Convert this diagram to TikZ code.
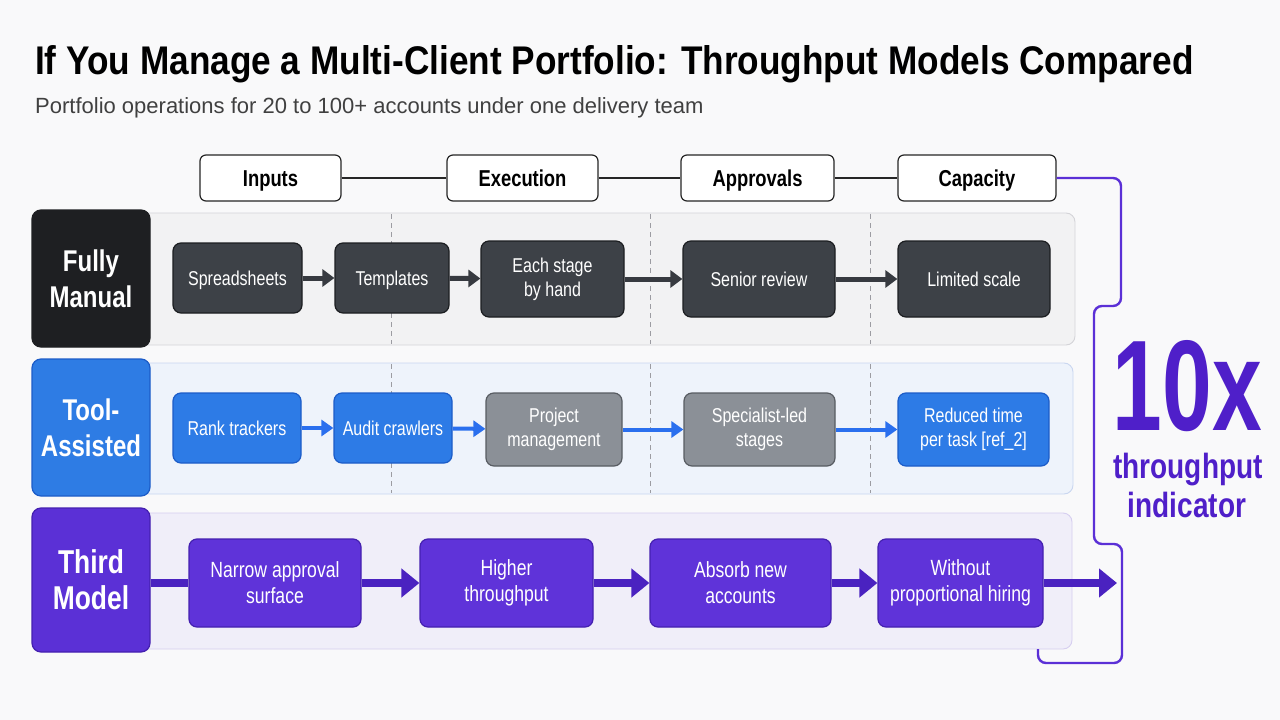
\documentclass[tikz,border=0pt]{standalone}
\usepackage{fontspec}
\setmainfont{Liberation Sans}
\newfontfamily\cond[FakeStretch=0.8]{Liberation Sans}
\newfontfamily\condt[FakeStretch=0.88]{Liberation Sans}
\usetikzlibrary{arrows.meta}
\definecolor{bgc}{HTML}{F9F9FA}
\definecolor{darklab}{HTML}{1E1F22}
\definecolor{darkbox}{HTML}{3D4147}
\definecolor{darkedge}{HTML}{1C1E21}
\definecolor{bluelab}{HTML}{2E7CE4}
\definecolor{blueedge}{HTML}{1C5CC8}
\definecolor{bluebox}{HTML}{2D7BE6}
\definecolor{bluearr}{HTML}{2A6FEE}
\definecolor{graybox}{HTML}{8B9097}
\definecolor{grayedge}{HTML}{585C62}
\definecolor{purlab}{HTML}{5B30D6}
\definecolor{puredge}{HTML}{4420B0}
\definecolor{purbox}{HTML}{5F33D9}
\definecolor{purarr}{HTML}{4A22C0}
\definecolor{purtxt}{HTML}{4F1FC9}
\definecolor{p1fill}{HTML}{F2F2F3}
\definecolor{p1edge}{HTML}{D4D4D8}
\definecolor{p2fill}{HTML}{EEF3FB}
\definecolor{p2edge}{HTML}{C9D6F0}
\definecolor{p3fill}{HTML}{F0EEF9}
\definecolor{p3edge}{HTML}{D6CEF0}
\definecolor{dashc}{HTML}{9C9CA2}
\tikzset{
  hdr/.style={draw=black!85, fill=white, rounded corners=6pt, line width=1.2pt,
    minimum height=46pt, inner sep=0pt, text height=17pt, text depth=0pt,
    font=\cond\bfseries\fontsize{23}{25}\selectfont},
  lab/.style={rounded corners=9pt, line width=1.2pt, inner sep=0pt, align=center,
    text=white, minimum width=118pt, font=\cond\bfseries\fontsize{30}{36}\selectfont},
  bx/.style={rounded corners=8pt, line width=1.2pt, inner sep=0pt, align=center,
    text=white, font=\cond\fontsize{20}{24}\selectfont},
  one/.style={text height=15pt, text depth=0pt},
  dbox/.style={bx, fill=darkbox, draw=darkedge},
  bbox/.style={bx, fill=bluebox, draw=blueedge},
  gbox/.style={bx, fill=graybox, draw=grayedge},
  pbox/.style={bx, fill=purbox, draw=puredge, minimum height=88pt,
    font=\cond\fontsize{22}{26}\selectfont},
  panel/.style={rounded corners=9pt, line width=0.9pt},
  dsh/.style={draw=dashc, line width=0.8pt, dash pattern=on 5pt off 4pt},
  darr/.style={draw=darkbox!90!black, line width=5pt, -{Triangle[length=12pt,width=17pt]}},
  barr/.style={draw=bluearr, line width=4pt, -{Triangle[length=12pt,width=16pt]}},
  parr/.style={draw=purarr, line width=8pt, -{Triangle[length=18pt,width=28pt]}},
  conn/.style={draw=black!85, line width=1.6pt},
}
\begin{document}
\begin{tikzpicture}[x=1pt,y=-1pt]
\fill[bgc] (0,0) rectangle (1280,720);
\useasboundingbox (0,0) rectangle (1280,720);

% title
\node[anchor=base west, inner sep=0pt, font=\condt\bfseries\fontsize{40}{44}\selectfont] (title) at (35,74)
  {If You Manage a Multi-Client Portfolio: Throughput Models Compared};
\node[anchor=base west, inner sep=0pt, text=black!75, font=\fontsize{22}{24}\selectfont] (sub) at (35,113)
  {Portfolio operations for 20 to 100+ accounts under one delivery team};

% panels
\draw[panel, fill=p1fill, draw=p1edge] (140,213) rectangle (1075,345);
\draw[panel, fill=p2fill, draw=p2edge] (140,363) rectangle (1073,494);
\draw[panel, fill=p3fill, draw=p3edge] (140,513) rectangle (1072,649);

% dashed column separators
\foreach \xx in {391,650,870} {
  \draw[dsh] (\xx,214) -- (\xx,344);
  \draw[dsh] (\xx,364) -- (\xx,493);
}

% headers
\node[hdr, minimum width=141pt] (hin) at (270.5,178) {Inputs};
\node[hdr, minimum width=151pt] (hex) at (522.5,178) {Execution};
\node[hdr, minimum width=153pt] (hap) at (757.5,178) {Approvals};
\node[hdr, minimum width=158pt] (hca) at (977,178) {Capacity};
\draw[conn] (hin) -- (hex);
\draw[conn] (hex) -- (hap);
\draw[conn] (hap) -- (hca);

% row labels
\node[lab, fill=darklab, draw=darklab, minimum height=137pt] (l1) at (91,278.5) {Fully\\Manual};
\node[lab, fill=bluelab, draw=blueedge, minimum height=137pt] (l2) at (91,427.5) {Tool-\\Assisted};
\node[lab, fill=purlab, draw=puredge, minimum height=144pt,
  font=\cond\bfseries\fontsize{33}{36}\selectfont] (l3) at (91,580) {Third\\Model};

% row 1
\node[dbox, one, minimum width=129pt, minimum height=70pt] (a1) at (237.5,278) {Spreadsheets};
\node[dbox, one, minimum width=114pt, minimum height=70pt] (a2) at (392,278) {Templates};
\node[dbox, minimum width=143pt, minimum height=76pt] (a3) at (552.5,279) {Each stage\\by hand};
\node[dbox, one, minimum width=152pt, minimum height=76pt] (a4) at (759,279) {Senior review};
\node[dbox, one, minimum width=152pt, minimum height=76pt] (a5) at (974,279) {Limited scale};
\draw[darr] (a1) -- (a2);
\draw[darr] (a2) -- (a3);
\draw[darr] (a3) -- (a4);
\draw[darr] (a4) -- (a5);

% row 2
\node[bbox, one, minimum width=128pt, minimum height=70pt] (b1) at (237,428) {Rank trackers};
\node[bbox, one, minimum width=118pt, minimum height=70pt] (b2) at (393,428) {Audit crawlers};
\node[gbox, minimum width=136pt, minimum height=73pt] (b3) at (554,429.5) {Project\\management};
\node[gbox, minimum width=151pt, minimum height=73pt] (b4) at (759.5,429.5) {Specialist-led\\stages};
\node[bbox, minimum width=151pt, minimum height=73pt] (b5) at (973.5,429.5) {Reduced time\\per task [ref\_2]};
\draw[barr] (b1) -- (b2);
\draw[barr] (b2) -- (b3);
\draw[barr] (b3) -- (b4);
\draw[barr] (b4) -- (b5);

% row 3
\node[pbox, minimum width=172pt] (c1) at (275,583) {Narrow approval\\surface};
\node[pbox, minimum width=173pt] (c2) at (506.5,583) {Higher\\throughput};
\node[pbox, minimum width=181pt] (c3) at (740.5,583) {Absorb new\\accounts};
\node[pbox, minimum width=165pt] (c4) at (960.5,583) {Without\\proportional hiring};
\coordinate (cend) at (1117,583);
\draw[draw=purarr, line width=8pt] (l3.east |- c1.west) -- (c1.west);
\draw[parr] (c1) -- (c2);
\draw[parr] (c2) -- (c3);
\draw[parr] (c3) -- (c4);
\draw[parr] (c4.east) -- (cend);

% bracket
\draw[draw=purlab, line width=2.4pt, rounded corners=8pt]
  (hca.east) -- (1121,178) -- (1121,306) -- (1094,306) -- (1094,544)
  -- (1122,544) -- (1122,663) -- (1038,663) -- (1038,649);

% indicator
\node[anchor=south, inner sep=0pt, text=purtxt] (ten) at (1187.5,432)
  {\resizebox{149pt}{90pt}{\bfseries 10x}};
\node[anchor=base, inner sep=0pt, text=purtxt, font=\cond\bfseries\fontsize{35}{40}\selectfont] (thr) at (1188,478) {throughput};
\node[anchor=base, inner sep=0pt, text=purtxt, font=\cond\bfseries\fontsize{35}{40}\selectfont] (ind) at (1187,517) {indicator};
\end{tikzpicture}
\end{document}
